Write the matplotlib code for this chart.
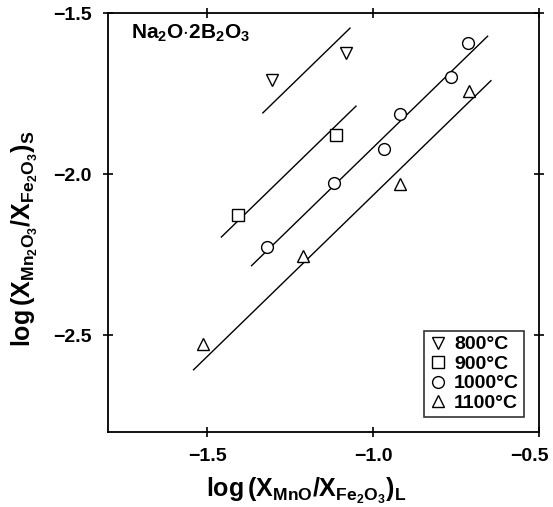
import numpy as np
import matplotlib
matplotlib.use('Agg')
import matplotlib.pyplot as plt
import matplotlib.transforms as mtransforms

plt.rcParams['font.family'] = ['Liberation Sans', 'DejaVu Sans']
plt.rcParams['font.weight'] = 'bold'
plt.rcParams['axes.labelweight'] = 'bold'
plt.rcParams['mathtext.fontset'] = 'custom'
plt.rcParams['mathtext.rm'] = 'Liberation Sans:bold'
plt.rcParams['mathtext.it'] = 'Liberation Sans:bold'
plt.rcParams['mathtext.bf'] = 'Liberation Sans:bold'
plt.rcParams['mathtext.sf'] = 'Liberation Sans:bold'

# data
labels = ['800°C', '900°C', '1000°C', '1100°C']
markers = ['v', 's', 'o', '^']

x_800 = [-1.306, -1.082]
y_800 = [-1.707, -1.623]
x_900 = [-1.409, -1.112]
y_900 = [-2.127, -1.877]
x_1000 = [-1.321, -1.118, -0.967, -0.918, -0.764, -0.715]
y_1000 = [-2.225, -2.028, -1.923, -1.812, -1.698, -1.593]
x_1100 = [-1.512, -1.212, -0.918, -0.712]
y_1100 = [-2.528, -2.253, -2.031, -1.741]

# fitted lines (slope 1): intercept and x range
intercepts = [-0.477, -0.737, -0.917, -1.065]
line_x0 = [-1.333, -1.458, -1.367, -1.542]
line_x1 = [-1.070, -1.052, -0.655, -0.645]

xs = [x_800, x_900, x_1000, x_1100]
ys = [y_800, y_900, y_1000, y_1100]

fig = plt.figure(figsize=(5.53, 5.07), dpi=100)
ax = fig.add_axes([108/553, 1 - 432/507, (539-108)/553, (432-13)/507])

for i in range(4):
    lx = np.array([line_x0[i], line_x1[i]])
    ax.plot(lx, lx + intercepts[i], color='black', linewidth=1.0)
    ax.plot(xs[i], ys[i], linestyle='none', marker=markers[i], markersize=8.5,
            markerfacecolor='white', markeredgecolor='black', markeredgewidth=1.0,
            label=labels[i])

ax.set_xlim(-1.8, -0.5)
ax.set_ylim(-2.8, -1.5)
ax.set_xticks([-1.5, -1.0, -0.5])
ax.set_yticks([-1.5, -2.0, -2.5])
ax.set_xticklabels(['\u22121.5', '\u22121.0', '\u22120.5'])
ax.set_yticklabels(['\u22121.5', '\u22122.0', '\u22122.5'])
ax.tick_params(direction='inout', length=7, width=1.2, labelsize=14,
               top=True, right=True, pad=8)
for s in ax.spines.values():
    s.set_linewidth(1.3)

# shift the last x tick label left so it stays inside the figure
lab = ax.get_xticklabels()[-1]
lab.set_transform(lab.get_transform() +
                  mtransforms.ScaledTranslation(-10/100, 0, fig.dpi_scale_trans))

ax.set_xlabel(r'log$\,$($\mathregular{X_{MnO}}$/$\mathregular{X_{Fe_2O_3}}$)$_\mathregular{L}$',
              fontsize=18, fontweight='bold')
ax.set_ylabel(r'log$\,$($\mathregular{X_{Mn_2O_3}}$/$\mathregular{X_{Fe_2O_3}}$)$_\mathregular{S}$',
              fontsize=18, fontweight='bold')
ax.xaxis.set_label_coords(0.46, -0.105)
ax.yaxis.set_label_coords(-0.158, 0.46)

ax.text(-1.73, -1.562, r'Na$_2$O$\cdot$2B$_2$O$_3$', fontsize=15, va='center', ha='left')

leg = ax.legend(loc='lower right', frameon=True, fancybox=False, edgecolor='black',
                fontsize=14, handletextpad=0.3, borderpad=0.25, labelspacing=0.1,
                handlelength=1.0, markerfirst=True, borderaxespad=0,
                bbox_to_anchor=(0.965, 0.036))
leg.get_frame().set_linewidth(1.2)
for t in leg.get_texts():
    t.set_ha('right')
leg._legend_box.align = 'right'

fig.savefig('out.png', dpi=100)
